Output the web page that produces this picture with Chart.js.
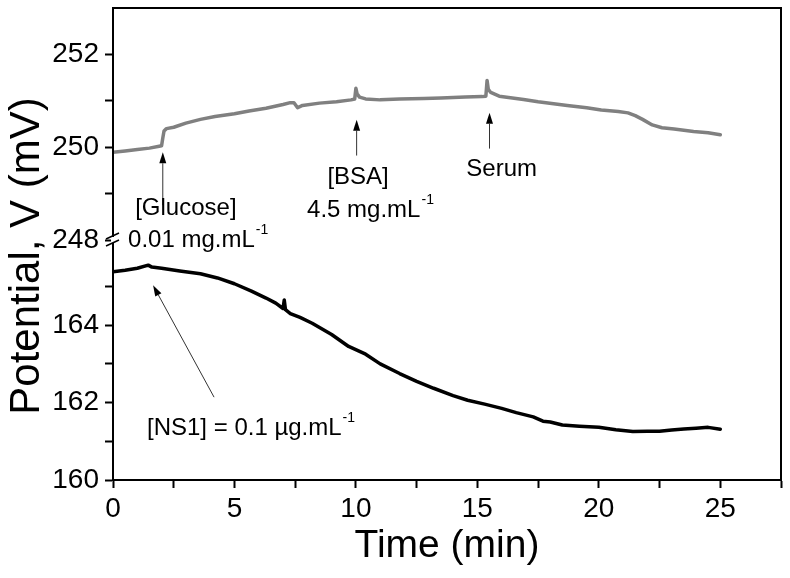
<!DOCTYPE html>
<html lang="en">
<head>
<meta charset="UTF-8">
<title>Potential vs time</title>
<script src="https://cdn.jsdelivr.net/npm/chart.js@4.4.0/dist/chart.umd.min.js"></script>
<style>
  body { margin: 0; background: #fff; }
  .chart { width: 790px; height: 578px; }
</style>
</head>
<body>
<div class="chart"><canvas id="chart1"></canvas></div>
<script>
// grey trace, upper part of the broken axis (mV)
var timeTop = [0, 0.5, 1.0, 1.5, 1.9, 2.0, 2.05, 2.1, 2.2, 2.5, 3.0, 3.6, 4.2, 5.0, 5.6, 6.3, 7.0, 7.3, 7.45, 7.6, 7.8,
  8.5, 9.2, 9.8, 9.95, 10.0, 10.05, 10.15, 10.4, 11.0, 11.8, 12.8, 13.5, 14.5, 15.2, 15.35, 15.4, 15.45, 15.55, 15.9,
  16.9, 17.5, 18.7, 19.5, 20.1, 20.8, 21.2, 21.5, 21.8, 22.2, 22.6, 23.1, 23.9, 24.5, 25.0];
var potTop = [249.89, 249.92, 249.95, 249.98, 250.02, 250.03, 250.2, 250.35, 250.4, 250.43, 250.52, 250.6, 250.66, 250.72,
  250.78, 250.84, 250.92, 250.96, 250.96, 250.85, 250.9, 250.95, 250.98, 251.02, 251.04, 251.27, 251.15, 251.08, 251.04,
  251.02, 251.04, 251.05, 251.06, 251.08, 251.09, 251.1, 251.44, 251.25, 251.18, 251.1, 251.03, 250.98, 250.9, 250.85,
  250.8, 250.77, 250.74, 250.68, 250.6, 250.48, 250.42, 250.39, 250.34, 250.31, 250.27];

// black trace, lower part of the broken axis (mV)
var timeBot = [0, 0.5, 1.0, 1.45, 1.6, 2.0, 2.75, 3.6, 4.3, 5.0, 5.7, 6.3, 6.7, 7.0, 7.05, 7.1, 7.3, 7.7, 8.2, 9.0, 9.7,
  10.4, 11.0, 11.8, 12.5, 13.2, 14.0, 14.6, 15.3, 16.0, 16.6, 17.3, 17.7, 18.0, 18.5, 19.2, 20.0, 20.7, 21.4, 22.0,
  22.5, 23.0, 23.5, 24.0, 24.5, 25.0];
var potBot = [165.38, 165.42, 165.47, 165.55, 165.5, 165.47, 165.4, 165.33, 165.22, 165.07, 164.88, 164.7, 164.57, 164.43,
  164.65, 164.4, 164.3, 164.2, 164.05, 163.76, 163.45, 163.25, 163.0, 162.75, 162.55, 162.37, 162.18, 162.06, 161.96,
  161.85, 161.74, 161.63, 161.52, 161.5, 161.42, 161.39, 161.36, 161.3, 161.25, 161.26, 161.26, 161.29, 161.32, 161.34,
  161.36, 161.31];

var xLabels = [0, 5, 10, 15, 20, 25];
var yTopLabels = [248, 250, 252];
var yBotLabels = [160, 162, 164];

// arrows and notes, in data units (axis = which y scale)
var arrows = [
  { axis: 'yTop', x1: 2.05, y1: 248.75, x2: 2.05, y2: 249.89 },
  { axis: 'yTop', x1: 10.03, y1: 249.82, x2: 10.03, y2: 250.59 },
  { axis: 'yTop', x1: 15.5, y1: 249.97, x2: 15.5, y2: 250.74 },
  { axis: 'yBot', x1: 4.16, y1: 162.14, x2: 1.65, y2: 165.03 }
];
var notes = [
  { axis: 'yTop', x: 3.0, y: 248.68, text: '[Glucose]', sup: '', align: 'center' },
  { axis: 'yTop', x: 0.62, y: 248.0, text: '0.01 mg.mL', sup: '-1', align: 'left' },
  { axis: 'yTop', x: 10.09, y: 249.36, text: '[BSA]', sup: '', align: 'center' },
  { axis: 'yTop', x: 7.99, y: 248.64, text: '4.5 mg.mL', sup: '-1', align: 'left' },
  { axis: 'yTop', x: 16.0, y: 249.52, text: 'Serum', sup: '', align: 'center' },
  { axis: 'yBot', x: 1.4, y: 161.34, text: '[NS1] = 0.1 \u00b5g.mL', sup: '-1', align: 'left' }
];

Chart.defaults.font.family = '"Liberation Sans", Arial, sans-serif';
Chart.defaults.color = '#000';

function drawArrow(ctx, x1, y1, x2, y2) {
    var ang = Math.atan2(y2 - y1, x2 - x1), len = 11, w = 3.5;
    var bx = x2 - len * Math.cos(ang), by = y2 - len * Math.sin(ang);
    ctx.beginPath();
    ctx.moveTo(x1, y1);
    ctx.lineTo(bx, by);
    ctx.stroke();
    ctx.beginPath();
    ctx.moveTo(x2, y2);
    ctx.lineTo(bx + w * Math.sin(ang), by - w * Math.cos(ang));
    ctx.lineTo(bx - w * Math.sin(ang), by + w * Math.cos(ang));
    ctx.closePath();
    ctx.fill();
}

var extras = {
    id: 'extras',
    afterDraw(chart) {
        var ctx = chart.ctx, a = chart.chartArea, sx = chart.scales.x;
        ctx.save();
        // box round the plot
        ctx.strokeStyle = '#000';
        ctx.lineWidth = 2;
        ctx.strokeRect(a.left, a.top, a.right - a.left, a.bottom - a.top);

        // axis break
        var yb = chart.scales.yTop.bottom;
        ctx.fillStyle = '#fff';
        ctx.fillRect(a.left - 2, yb - 3, 4, 6);
        ctx.lineWidth = 1.5;
        ctx.beginPath();
        ctx.moveTo(a.left - 7, yb - 1); ctx.lineTo(a.left + 6, yb - 7);
        ctx.moveTo(a.left - 7, yb + 6); ctx.lineTo(a.left + 6, yb);
        ctx.stroke();

        // arrows
        ctx.strokeStyle = '#333';
        ctx.fillStyle = '#000';
        ctx.lineWidth = 1;
        arrows.forEach(function (r) {
            var sy = chart.scales[r.axis];
            drawArrow(ctx, sx.getPixelForValue(r.x1), sy.getPixelForValue(r.y1),
                sx.getPixelForValue(r.x2), sy.getPixelForValue(r.y2));
        });

        // notes
        ctx.textBaseline = 'middle';
        notes.forEach(function (n) {
            var sy = chart.scales[n.axis];
            var px = sx.getPixelForValue(n.x), py = sy.getPixelForValue(n.y);
            ctx.font = '24px "Liberation Sans", Arial, sans-serif';
            var w = ctx.measureText(n.text).width;
            ctx.font = '14px "Liberation Sans", Arial, sans-serif';
            var ws = n.sup ? ctx.measureText(n.sup).width : 0;
            var left = n.align === 'center' ? px - (w + ws) / 2 : px;
            ctx.textAlign = 'left';
            ctx.font = '24px "Liberation Sans", Arial, sans-serif';
            ctx.fillText(n.text, left, py);
            if (n.sup) {
                ctx.font = '14px "Liberation Sans", Arial, sans-serif';
                ctx.fillText(n.sup, left + w + 1, py - 10);
            }
        });

        // y title spans both parts
        ctx.translate(27, (a.top + a.bottom) / 2 + 12);
        ctx.rotate(-Math.PI / 2);
        ctx.textAlign = 'center';
        ctx.font = '42px "Liberation Sans", Arial, sans-serif';
        ctx.fillText('Potential, V (mV)', 0, 0);
        ctx.restore();
    }
};

function yAxis(min, max, top, weight, labels) {
    return {
        type: 'linear',
        position: 'left',
        stack: 'pot',
        stackWeight: weight,
        min: min,
        max: max,
        ticks: {
            stepSize: 1,
            autoSkip: false,
            padding: 6,
            font: { size: 28 },
            color: '#000',
            callback: function (v) { return labels.includes(v) ? v : ''; }
        },
        grid: { drawOnChartArea: false, tickLength: 8, tickColor: '#000', tickWidth: 2 },
        border: { color: '#000', width: 2 },
        afterBuildTicks: function (s) { s.ticks = s.ticks.filter(function (t) { return t.value <= top; }); },
        afterFit: function (s) { s.width = 60; s.paddingTop = 0; s.paddingBottom = 0; }
    };
}

var ctx = document.getElementById('chart1').getContext('2d');
var myChart = new Chart(ctx, {
    type: 'line',
    data: {
        datasets: [{
            label: 'glucose / BSA / serum',
            data: timeTop.map(function (t, i) { return { x: t, y: potTop[i] }; }),
            yAxisID: 'yTop',
            borderColor: '#808080',
            borderWidth: 3.5,
            borderJoinStyle: 'round',
            borderCapStyle: 'round',
            pointRadius: 0,
            tension: 0
        }, {
            label: 'NS1',
            data: timeBot.map(function (t, i) { return { x: t, y: potBot[i] }; }),
            yAxisID: 'yBot',
            borderColor: '#000',
            borderWidth: 3.5,
            borderJoinStyle: 'round',
            borderCapStyle: 'round',
            pointRadius: 0,
            tension: 0
        }]
    },
    options: {
        responsive: true,
        maintainAspectRatio: false,
        animation: false,
        layout: { padding: { left: 53, right: 9, top: 8, bottom: 0 } },
        plugins: { legend: { display: false }, tooltip: { enabled: false } },
        scales: {
            x: {
                type: 'linear',
                min: 0,
                max: 27.5,
                ticks: {
                    stepSize: 2.5,
                    autoSkip: false,
                    maxRotation: 0,
                    padding: 4,
                    font: { size: 28 },
                    color: '#000',
                    callback: function (v) { return xLabels.includes(v) ? v : ''; }
                },
                grid: { drawOnChartArea: false, tickLength: 8, tickColor: '#000', tickWidth: 2 },
                border: { color: '#000', width: 2 },
                title: { display: true, text: 'Time (min)', font: { size: 39 }, color: '#000', padding: { top: 0, bottom: 8 } },
                afterFit: function (s) { s.height = 98; s.paddingLeft = 0; s.paddingRight = 0; }
            },
            // left-side stacks are laid out in reverse order, so the lower part comes first
            yBot: yAxis(160, 166.2, 165, 240, yBotLabels),
            yTop: yAxis(248, 253, 252, 232, yTopLabels)
        }
    },
    plugins: [extras]
});
</script>
</body>
</html>
